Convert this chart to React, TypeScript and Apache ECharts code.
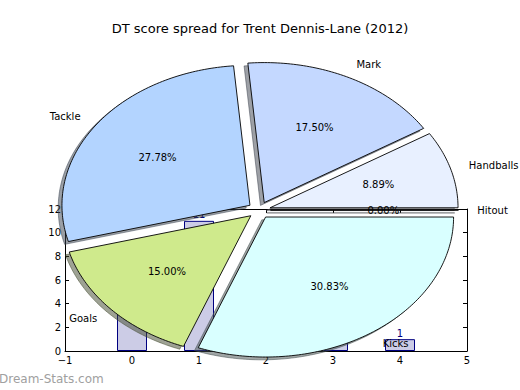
import React, { useEffect, useRef } from "react";
import * as echarts from "echarts";

const titleText = "DT score spread for Trent Dennis-Lane (2012)";
const pieLabels = ["Hitout", "Handballs", "Mark", "Tackle", "Goals", "Kicks"];
const piePercents = [0.0, 8.89, 17.5, 27.78, 15.0, 30.83];
const pieColors = ["#eef4ff", "#e8f0ff", "#c4d8ff", "#b3d4ff", "#cfea8c", "#d9ffff"];
const barX = [0, 1, 2, 3, 4];
const barValues = [5, 11, 7, 2, 1];
const xTicks = [-1, 0, 1, 2, 3, 4, 5];
const yTicks = [0, 2, 4, 6, 8, 10, 12];

const FONT = "DejaVu Sans";
const EXPLODE = 0.06;
const SHADOW_OFF = -0.02;

function shadowColor(hex: string) {
  const r = parseInt(hex.slice(1, 3), 16);
  const g = parseInt(hex.slice(3, 5), 16);
  const b = parseInt(hex.slice(5, 7), 16);
  return `rgba(${Math.round(r * 0.3)},${Math.round(g * 0.3)},${Math.round(b * 0.3)},0.5)`;
}

const total = piePercents.reduce((a, b) => a + b, 0);
const cum: number[] = [0];
piePercents.forEach((v) => cum.push(cum[cum.length - 1] + v));

function wedgePoints(i: number, api: any, off: number) {
  const a0 = (cum[i] / total) * 2 * Math.PI;
  const a1 = (cum[i + 1] / total) * 2 * Math.PI;
  const mid = (a0 + a1) / 2;
  const ex = EXPLODE * Math.cos(mid) + off;
  const ey = EXPLODE * Math.sin(mid) + off;
  const pts: number[][] = [api.coord([ex, ey])];
  if (a1 - a0 < 1e-9) {
    pts.push(api.coord([ex + Math.cos(a0), ey + Math.sin(a0)]));
  } else {
    const n = Math.max(2, Math.ceil((a1 - a0) / (Math.PI / 180)));
    for (let k = 0; k <= n; k++) {
      const a = a0 + ((a1 - a0) * k) / n;
      pts.push(api.coord([ex + Math.cos(a), ey + Math.sin(a)]));
    }
  }
  return { pts, mid, ex, ey };
}

function frameAxis(position: string, showLabel: boolean, extra: any = {}) {
  return {
    gridIndex: 0,
    type: "value",
    position,
    axisLine: { show: true, onZero: false, lineStyle: { color: "#000", width: 1 } },
    axisTick: { show: true, inside: true, length: 4, lineStyle: { color: "#000" } },
    axisLabel: showLabel
      ? { color: "#000", fontSize: 10, fontFamily: FONT, margin: 4, formatter: (v: number) => String(v).replace("-", "\u2212") }
      : { show: false },
    splitLine: { show: false },
    ...extra,
  };
}

export default function App() {
  const ref = useRef<HTMLDivElement>(null);
  useEffect(() => {
    if (!ref.current) return;
    const chart = echarts.init(ref.current, null, { renderer: "svg" });
    const xr = { min: xTicks[0], max: xTicks[xTicks.length - 1], interval: 1 };
    const yr = { min: yTicks[0], max: yTicks[yTicks.length - 1], interval: 2 };
    const option: any = {
      animation: false,
      backgroundColor: "#ffffff",
      title: {
        text: titleText,
        left: "center",
        top: 17,
        textStyle: { fontFamily: FONT, fontSize: 13, fontWeight: "normal", color: "#000" },
      },
      graphic: [
        {
          type: "text",
          left: -1,
          top: 373,
          style: { text: "Dream-Stats.com", fill: "#a0a0a0", fontFamily: FONT, fontSize: 12 },
        },
      ],
      grid: [
        { left: 65, top: 209, width: 402, height: 142, show: false },
        { left: 24.2, top: 35.1, width: 470, height: 350, show: false },
      ],
      xAxis: [
        frameAxis("bottom", true, xr),
        frameAxis("top", false, xr),
        { gridIndex: 1, type: "value", min: -1.25, max: 1.25, show: false },
      ],
      yAxis: [
        frameAxis("left", true, yr),
        frameAxis("right", false, yr),
        { gridIndex: 1, type: "value", min: -1.25, max: 1.25, show: false },
      ],
      series: [
        {
          type: "bar",
          xAxisIndex: 0,
          yAxisIndex: 0,
          data: barX.map((x, i) => [x, barValues[i]]),
          barWidth: 30,
          z: 2,
          itemStyle: { color: "#ccccE6", borderColor: "#000080", borderWidth: 1 },
          label: { show: true, position: "top", distance: 1, color: "#000080", fontSize: 10, fontFamily: FONT },
        },
        {
          type: "custom",
          xAxisIndex: 2,
          yAxisIndex: 2,
          z: 5,
          silent: true,
          data: piePercents.map((v, i) => [i, v]),
          renderItem: (params: any, api: any) => {
            const i = params.dataIndex;
            const { pts } = wedgePoints(i, api, SHADOW_OFF);
            const c = shadowColor(pieColors[i]);
            return {
              type: "polygon",
              shape: { points: pts },
              style: { fill: c, stroke: c, lineWidth: 1 },
            };
          },
        },
        {
          type: "custom",
          xAxisIndex: 2,
          yAxisIndex: 2,
          z: 6,
          silent: true,
          data: piePercents.map((v, i) => [i, v]),
          renderItem: (params: any, api: any) => {
            const i = params.dataIndex;
            const { pts, mid, ex, ey } = wedgePoints(i, api, 0);
            const lp = api.coord([ex + 1.1 * Math.cos(mid), ey + 1.1 * Math.sin(mid)]);
            const pp = api.coord([ex + 0.6 * Math.cos(mid), ey + 0.6 * Math.sin(mid)]);
            const right = Math.cos(mid) > 0;
            return {
              type: "group",
              children: [
                {
                  type: "polygon",
                  shape: { points: pts },
                  style: { fill: pieColors[i], stroke: "#000", lineWidth: 0.9 },
                },
                {
                  type: "text",
                  x: pp[0],
                  y: pp[1],
                  z2: 100,
                  style: { text: piePercents[i].toFixed(2) + "%", fill: "#000", fontFamily: FONT, fontSize: 10, align: "center", verticalAlign: "middle" },
                },
                {
                  type: "text",
                  x: lp[0],
                  y: lp[1],
                  z2: 100,
                  style: { text: pieLabels[i], fill: "#000", fontFamily: FONT, fontSize: 10, align: right ? "left" : "right", verticalAlign: "middle" },
                },
              ],
            };
          },
        },
      ],
    };
    chart.setOption(option);
    return () => chart.dispose();
  }, []);
  return <div ref={ref} style={{ position: "fixed", left: 0, top: 0, width: 520, height: 390 }} />;
}
